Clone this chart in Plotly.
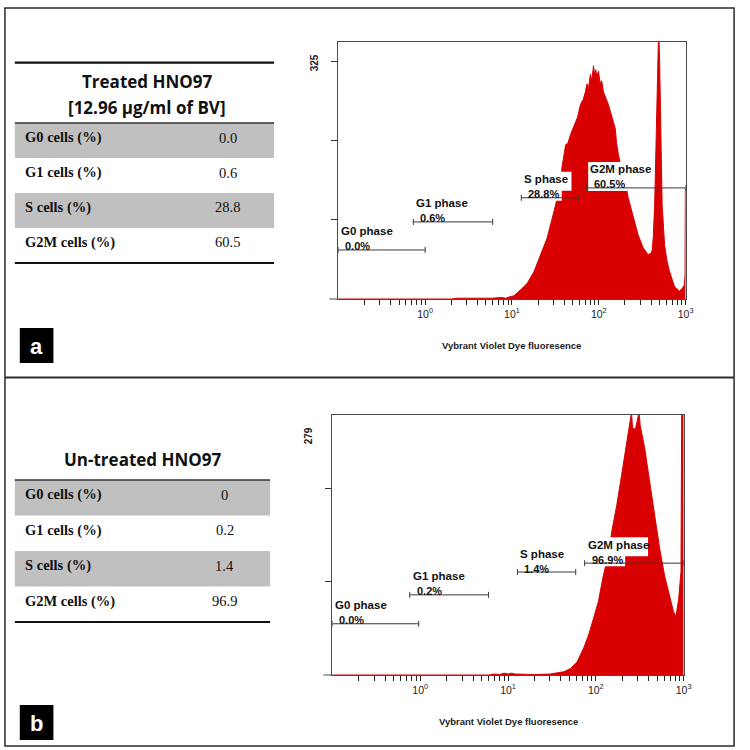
import numpy as np
import plotly.graph_objects as go

W = H = 750
RED = "#d80000"
GATE = "#3a3a3a"
AX = "#4a4a4a"
BORDER = "#2b2b2b"
GRAY = "#c0c0c0"
SANS = "Liberation Sans, Arial, sans-serif"
SERIF = "Liberation Serif, Times New Roman, serif"
HEAD = "Open Sans, Noto Sans, sans-serif"

# ---------------- data ----------------
treated_fl = [0.1, 2.0, 2.3, 4.0, 6.0, 7.5, 8.5, 9.5, 10.5, 12.7, 15.0, 18.0, 21.5, 25.4,
              30.5, 34.8, 36.5, 37.6, 41.5, 44, 47.3, 53.9, 57, 61.5, 66, 70.2, 73, 76,
              80, 83, 87, 90, 92, 95, 99, 104, 108, 113, 120, 129, 137, 147, 155, 160,
              168, 191, 200, 218, 249, 284, 324, 369, 400, 413, 425, 440, 455, 467, 480,
              489, 500, 510, 520, 537, 572, 610, 652, 743, 847, 925, 967, 985, 993, 1000]
treated_counts = [0, 0, 1, 1, 1, 2, 1, 3, 4, 12, 20, 35, 56, 77,
                  111, 137, 140, 166, 195, 197, 208, 225, 230, 246, 252, 262, 272, 266,
                  284, 276, 295, 280, 290, 282, 288, 272, 276, 262, 255, 246, 236, 225, 215, 198,
                  183, 153, 150, 128, 103, 81, 65, 56, 58, 62, 80, 119, 190, 246, 310,
                  340, 310, 246, 180, 119, 69, 48, 35, 16, 10, 14, 18, 30, 140, 140]

untreated_fl = [0.1, 6, 7, 8, 9, 10, 11, 12, 13, 16, 20, 30, 36, 43.4, 51.5, 61.2, 72.8,
                82.8, 94.3, 107, 122, 139, 152, 173, 197, 215, 234, 245, 255, 263, 271,
                280, 290, 300, 311, 320, 330, 361, 411, 468, 533, 606, 690, 766, 819,
                879, 933, 945, 952, 1000]
untreated_counts = [0, 0, 1, 0.5, 2, 1, 2, 1, 1, 0.5, 0.5, 1, 2, 3.5, 7, 14, 29,
                    43, 61, 79, 107, 129, 154, 182, 215, 236, 258, 270, 282, 262, 265,
                    262, 268, 275, 282, 268, 261, 243, 207, 172, 136, 107, 86, 68, 63,
                    82, 111, 180, 300, 300]

gate_names = ["G0 phase", "G1 phase", "S phase", "G2M phase"]
treated_gate_pct = ["0.0%", "0.6%", "28.8%", "60.5%"]
treated_gate_lo = [0.1, 0.73, 12.8, 72.5]
treated_gate_hi = [1.0, 6.0, 59.0, 1000]
treated_gate_y = [62, 97.5, 128, 140.5]
untreated_gate_pct = ["0.0%", "0.2%", "1.4%", "96.9%"]
untreated_gate_lo = [0.1, 0.76, 12.8, 74.6]
untreated_gate_hi = [0.96, 6.0, 59.0, 1000]
untreated_gate_y = [55, 86, 110.5, 120]

row_labels = ["G0 cells (%)", "G1 cells (%)", "S cells (%)", "G2M cells (%)"]
treated_vals = ["0.0", "0.6", "28.8", "60.5"]
untreated_vals = ["0", "0.2", "1.4", "96.9"]
treated_title = ["Treated HNO97", "[12.96 μg/ml of BV]"]
untreated_title = ["Un-treated HNO97"]
x_title = "Vybrant Violet Dye fluoresence"
treated_ymax = 325
untreated_ymax = 279
y_ticks = [100, 200, 300]
major_exps = [0, 1, 2, 3]
minor_mult = [2, 3, 4, 5, 6, 7, 8, 9]
minor_exps = [-1, 0, 1, 2]


def px(x):
    return x / W


def py(y):
    return 1 - y / H


major_vals = [10.0 ** d for d in major_exps]
major_text = [f"10<sup>{d}</sup>" for d in major_exps]
minor_vals = [m * 10.0 ** d for d in minor_exps for m in minor_mult]

fig = go.Figure()
shapes = []
annotations = []

panels = [
    dict(xa="x", ya="y", fl=treated_fl, counts=treated_counts, ymax=treated_ymax,
         xdom=[px(342), px(693)], ydom=[py(299), py(42)],
         pct=treated_gate_pct, lo=treated_gate_lo, hi=treated_gate_hi, gy=treated_gate_y),
    dict(xa="x2", ya="y2", fl=untreated_fl, counts=untreated_counts, ymax=untreated_ymax,
         xdom=[px(336), px(691)], ydom=[py(675), py(415)],
         pct=untreated_gate_pct, lo=untreated_gate_lo, hi=untreated_gate_hi, gy=untreated_gate_y),
]

layout_axes = {}
for i, p in enumerate(panels):
    xa, ya = p["xa"], p["ya"]
    fig.add_trace(go.Scatter(
        x=p["fl"], y=p["counts"], mode="lines", fill="tozeroy",
        line=dict(color=RED, width=1), fillcolor=RED,
        xaxis=xa, yaxis=ya, showlegend=False, hoverinfo="skip"))
    xkey = "xaxis" if xa == "x" else "xaxis2"
    ykey = "yaxis" if ya == "y" else "yaxis2"
    layout_axes[xkey] = dict(
        type="log", range=[-1, 3], domain=p["xdom"], anchor=ya,
        tickmode="array", tickvals=major_vals, ticktext=major_text,
        ticks="outside", ticklen=5, tickwidth=1.2, tickcolor="#222",
        minor=dict(tickmode="array", tickvals=minor_vals, ticks="outside",
                   ticklen=5, tickwidth=1.2, tickcolor="#222", showgrid=False),
        tickfont=dict(family=SANS, size=10.5, color="#222"),
        showline=True, linecolor=AX, linewidth=1, mirror=True,
        showgrid=False, zeroline=False, fixedrange=True)
    layout_axes[ykey] = dict(
        range=[0, p["ymax"]], domain=p["ydom"], anchor=xa,
        tickmode="array", tickvals=y_ticks, showticklabels=False,
        ticks="outside", ticklen=6, tickwidth=1.2, tickcolor="#333",
        showline=True, linecolor=AX, linewidth=1, mirror=True,
        showgrid=False, zeroline=False, fixedrange=True)

    # x-axis line extension to the left of the y axis
    shapes.append(dict(type="line", xref=f"{xa} domain", yref=f"{ya} domain",
                       x0=-0.026, x1=0, y0=0, y1=0, line=dict(color=AX, width=1)))
    # y max label
    annotations.append(dict(xref=f"{xa} domain", yref=f"{ya} domain", x=-0.068, y=0.92,
                            text=f"<b>{p['ymax']}</b>", textangle=-90, showarrow=False,
                            font=dict(family=SANS, size=10, color="#222"),
                            xanchor="center", yanchor="middle"))
    # x title
    annotations.append(dict(xref=f"{xa} domain", yref=f"{ya} domain", x=0.5, y=-0.179,
                            text=f"<b>{x_title}</b>", showarrow=False,
                            font=dict(family=SANS, size=9.5, color="#222"),
                            xanchor="center", yanchor="middle"))

    # gates: white label boxes, gate lines, caps, text
    for name, pct, lo, hi, gy in zip(gate_names, p["pct"], p["lo"], p["hi"], p["gy"]):
        shapes.append(dict(type="rect", xref=xa, yref=ya, layer="above",
                           xsizemode="pixel", ysizemode="pixel", xanchor=lo, yanchor=gy,
                           x0=1.5, x1=6.6 * len(name) + 4, y0=7, y1=26,
                           fillcolor="white", line=dict(width=0)))
        shapes.append(dict(type="rect", xref=xa, yref=ya, layer="above",
                           xsizemode="pixel", ysizemode="pixel", xanchor=lo, yanchor=gy,
                           x0=1.5, x1=6.5 * len(pct) + 8, y0=-3, y1=7.5,
                           fillcolor="white", line=dict(width=0)))
        shapes.append(dict(type="line", xref=xa, yref=ya, layer="above",
                           x0=lo, x1=hi, y0=gy, y1=gy, line=dict(color=GATE, width=1)))
        for xe in (lo, hi):
            shapes.append(dict(type="line", xref=xa, yref=ya, layer="above",
                               x0=xe, x1=xe, ysizemode="pixel", yanchor=gy, y0=-3, y1=3,
                               line=dict(color=GATE, width=1)))
        annotations.append(dict(xref=xa, yref=ya, x=float(np.log10(lo)), y=gy,
                                text=f"<b>{name}</b>", showarrow=False, xanchor="left",
                                yanchor="middle", xshift=1, yshift=18.5,
                                font=dict(family=SANS, size=11.5, color="#111")))
        annotations.append(dict(xref=xa, yref=ya, x=float(np.log10(lo)), y=gy,
                                text=f"<b>{pct}</b>", showarrow=False, xanchor="left",
                                yanchor="middle", xshift=5, yshift=3.5,
                                font=dict(family=SANS, size=11, color="#111")))

# ---------------- tables ----------------
tables = [
    dict(title=treated_title, title_y=[82, 107], title_x=149, top_line=62.7,
         head_line=123, row_h=35, vals=treated_vals, val_x=230, x1=277),
    dict(title=untreated_title, title_y=[460], title_x=145, top_line=None,
         head_line=480, row_h=35.5, vals=untreated_vals, val_x=227, x1=273),
]
for t in tables:
    x0, x1 = 15, t["x1"]
    for i, (lab, val) in enumerate(zip(row_labels, t["vals"])):
        r0 = t["head_line"] + i * t["row_h"]
        if i % 2 == 0:
            shapes.append(dict(type="rect", xref="paper", yref="paper", layer="below",
                               x0=px(x0), x1=px(x1), y0=py(r0 + t["row_h"]), y1=py(r0),
                               fillcolor=GRAY, line=dict(width=0)))
        yc = r0 + t["row_h"] / 2 - 3
        annotations.append(dict(xref="paper", yref="paper", x=px(23), y=py(yc),
                                text=f"<b>{lab}</b>", showarrow=False, xanchor="left",
                                yanchor="middle", font=dict(family=SERIF, size=14.5, color="#111")))
        annotations.append(dict(xref="paper", yref="paper", x=px(t["val_x"]), y=py(yc),
                                text=val, showarrow=False, xanchor="center",
                                yanchor="middle", font=dict(family=SERIF, size=14.5, color="#111")))
    bottom = t["head_line"] + 4 * t["row_h"]
    if t["top_line"] is not None:
        shapes.append(dict(type="line", xref="paper", yref="paper", x0=px(x0), x1=px(x1),
                           y0=py(t["top_line"]), y1=py(t["top_line"]),
                           line=dict(color="#111", width=2.2)))
    shapes.append(dict(type="line", xref="paper", yref="paper", x0=px(x0), x1=px(x1),
                       y0=py(t["head_line"]), y1=py(t["head_line"]),
                       line=dict(color="#333", width=1.6)))
    shapes.append(dict(type="line", xref="paper", yref="paper", x0=px(x0), x1=px(x1),
                       y0=py(bottom), y1=py(bottom), line=dict(color="#111", width=2.2)))
    for txt, ty in zip(t["title"], t["title_y"]):
        annotations.append(dict(xref="paper", yref="paper", x=px(t["title_x"]), y=py(ty),
                                text=f"<b>{txt}</b>", showarrow=False, xanchor="center",
                                yanchor="middle", font=dict(family=HEAD, size=17, color="#111")))

# panel badges
for lab, (b0, b1) in zip(["a", "b"], [(328, 363), (705, 740)]):
    shapes.append(dict(type="rect", xref="paper", yref="paper", x0=px(20), x1=px(54),
                       y0=py(b1), y1=py(b0), fillcolor="black", line=dict(width=0)))
    annotations.append(dict(xref="paper", yref="paper", x=px(37), y=py((b0 + b1) / 2 + 1),
                            text=f"<b>{lab}</b>", showarrow=False, xanchor="center",
                            yanchor="middle", font=dict(family=SANS, size=22, color="white")))

# outer frame and divider
shapes.append(dict(type="rect", xref="paper", yref="paper", x0=px(5), x1=px(742),
                   y0=py(746), y1=py(8), line=dict(color=BORDER, width=1.5),
                   fillcolor="rgba(0,0,0,0)"))
shapes.append(dict(type="line", xref="paper", yref="paper", x0=px(5), x1=px(742),
                   y0=py(377.5), y1=py(377.5), line=dict(color=BORDER, width=1.8)))

fig.update_layout(
    width=W, height=H, autosize=False,
    margin=dict(l=0, r=0, t=0, b=0),
    paper_bgcolor="white", plot_bgcolor="white",
    showlegend=False, shapes=shapes, annotations=annotations,
    **layout_axes)

fig.write_html("out.html")
